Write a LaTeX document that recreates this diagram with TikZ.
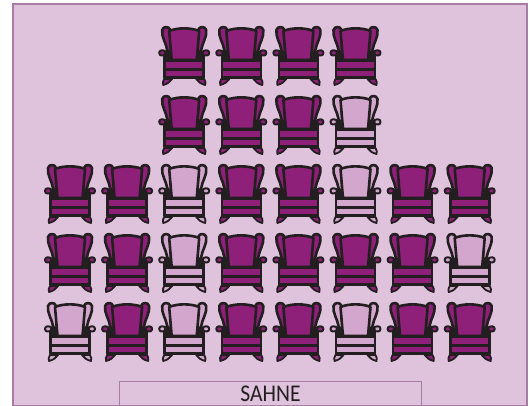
\documentclass[tikz,border=0pt]{standalone}
\usepackage{xcolor}
\usepackage{fontspec}
\setmainfont{Open Sans}
\newfontfamily\stagefont[FakeStretch=0.9]{Carlito}
\usetikzlibrary{positioning}
\definecolor{stage}{HTML}{DFC2DB}
\definecolor{edge}{HTML}{A87CA4}
\definecolor{plum}{HTML}{8E2079}
\definecolor{pale}{HTML}{D3A6CD}
\definecolor{ink}{HTML}{231F20}
\tikzset{
  x=1pt,y=-1pt,
  framebox/.style={draw=edge,fill=stage,line width=1.2pt},
  stagebox/.style={draw=edge,line width=1pt,minimum width=302pt,minimum height=25pt,
    font=\stagefont\fontsize{24}{24}\selectfont,text=ink,inner sep=0pt,text height=17pt,text depth=2pt},
  chairline/.style={draw=ink,line width=2.6pt,line join=round,line cap=round},
  pics/seat/.style={code={
    % wings
    \filldraw[chairline,fill=#1] (-14,-26) .. controls (-15,-30) and (-21,-30) .. (-22,-26) .. controls (-23,-19) and (-18,-13) .. (-17,-6) -- (-13,2) -- cycle;
    \filldraw[chairline,fill=#1] (14,-26) .. controls (15,-30) and (21,-30) .. (22,-26) .. controls (23,-19) and (18,-13) .. (17,-6) -- (13,2) -- cycle;
    % arms
    \fill[ink] (-20,-5) rectangle (-12,5);
    \fill[ink] (20,-5) rectangle (12,5);
    \filldraw[chairline,fill=#1,line width=2pt] (-19,-5) .. controls (-22,-6) and (-25,-6) .. (-25,-3) .. controls (-25,0) and (-21,0) .. (-19,-1) -- cycle;
    \filldraw[chairline,fill=#1,line width=2pt] (19,-5) .. controls (22,-6) and (25,-6) .. (25,-3) .. controls (25,0) and (21,0) .. (19,-1) -- cycle;
    % back
    \filldraw[chairline,fill=#1] (-15,-25) .. controls (-7,-28.5) and (7,-28.5) .. (15,-25) -- (12.5,4) -- (-12.5,4) -- cycle;
    % seat bands
    \fill[#1] (-19,5) rectangle (19,21);
    \draw[chairline] (-19.5,-1) -- (-19.5,22);
    \draw[chairline] (19.5,-1) -- (19.5,22);
    \draw[chairline] (-18,5) -- (18,5);
    \draw[chairline,line width=2.8pt] (-19,13.5) -- (19,13.5);
    \draw[chairline,line width=3pt] (-19,21.5) -- (19,21.5);
    % feet
    \filldraw[chairline,fill=#1,line width=1.8pt] (-20,23) -- (-12,23) .. controls (-14,26) and (-17,28) .. (-21,29) .. controls (-22,27) and (-21,25) .. (-20,23) -- cycle;
    \filldraw[chairline,fill=#1,line width=1.8pt] (20,23) -- (12,23) .. controls (14,26) and (17,28) .. (21,29) .. controls (22,27) and (21,25) .. (20,23) -- cycle;
  }}
}
\begin{document}
\begin{tikzpicture}
  \useasboundingbox (0,0) rectangle (530,406);
  \fill[white] (0,0) rectangle (530,406);
  \path[framebox] (13,4) rectangle (527,405.5);
  % chairs, row by row: column/colour
  \foreach \col/\tone [count=\n] in {3/plum,4/plum,5/plum,6/plum}
    \pic (ra\n) at (70+57.1*\col-57.1,56) {seat=\tone};
  \foreach \col/\tone [count=\n] in {3/plum,4/plum,5/plum,6/pale}
    \pic (rb\n) at (70+57.1*\col-57.1,125) {seat=\tone};
  \foreach \col/\tone [count=\n] in {1/plum,2/plum,3/pale,4/plum,5/plum,6/pale,7/plum,8/plum}
    \pic (rc\n) at (70+57.1*\col-57.1,194) {seat=\tone};
  \foreach \col/\tone [count=\n] in {1/plum,2/plum,3/pale,4/plum,5/plum,6/plum,7/plum,8/pale}
    \pic (rd\n) at (70+57.1*\col-57.1,263) {seat=\tone};
  \foreach \col/\tone [count=\n] in {1/pale,2/plum,3/pale,4/plum,5/plum,6/pale,7/plum,8/plum}
    \pic (re\n) at (70+57.1*\col-57.1,332) {seat=\tone};
  \node[stagebox,anchor=north] (sahne) at (270.5,381) {SAHNE};
\end{tikzpicture}
\end{document}
